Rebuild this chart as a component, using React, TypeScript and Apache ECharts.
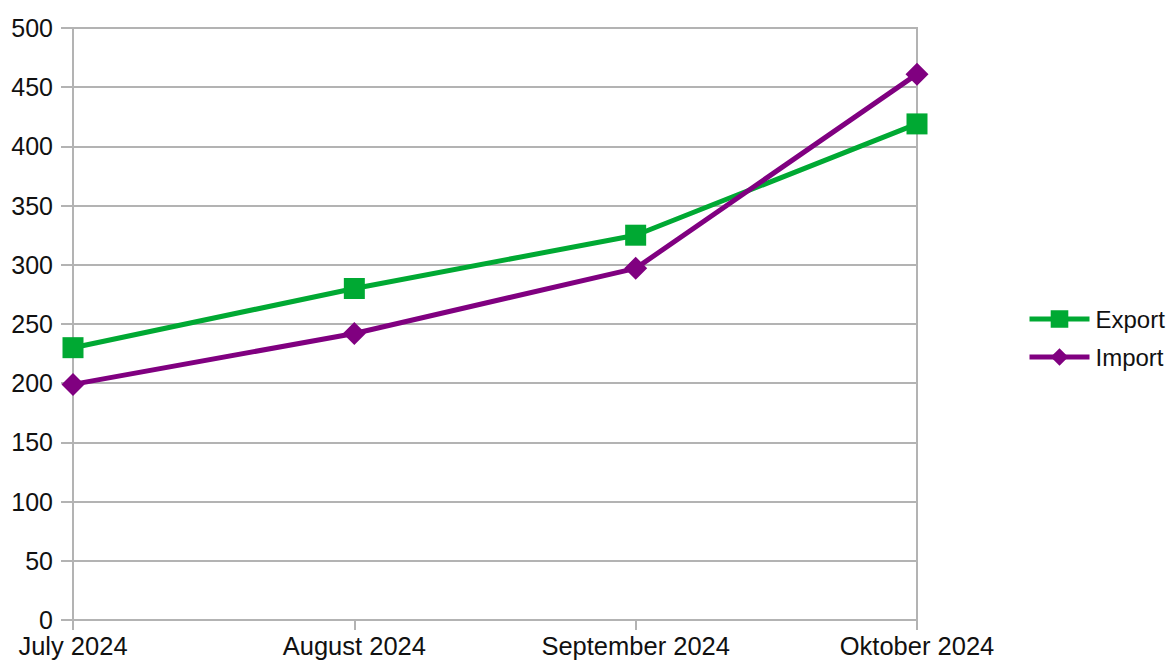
import React, { useEffect, useRef } from "react";
import * as echarts from "echarts";

const categories = ["July 2024", "August 2024", "September 2024", "Oktober 2024"];
const exportValues = [230, 280, 325, 419];
const importValues = [199, 242, 297, 461];
const yMin = 0;
const yMax = 500;
const yInterval = 50;

export default function App() {
  const ref = useRef<HTMLDivElement>(null);
  useEffect(() => {
    if (!ref.current) return;
    const chart = echarts.init(ref.current, undefined, { renderer: "svg" });
    const font = "'Liberation Sans', Arial, sans-serif";
    const textColor = "#111111";
    chart.setOption({
      animation: false,
      textStyle: { fontFamily: font },
      grid: {
        left: 73, right: 258, top: 28, bottom: 43, containLabel: false,
        show: true, borderColor: "#b3b3b3", borderWidth: 2,
      },
      legend: {
        orient: "vertical",
        left: 1022,
        top: 302,
        itemWidth: 60,
        itemHeight: 22,
        itemGap: 14,
        lineStyle: { width: 5 },
        textStyle: { fontSize: 24, color: textColor, fontFamily: font, padding: [0, 0, 0, 1] },
        data: ["Export", "Import"],
      },
      xAxis: {
        type: "category",
        data: categories,
        boundaryGap: false,
        axisLine: { show: true, lineStyle: { color: "#b3b3b3", width: 2 } },
        axisTick: { show: true, length: 10, lineStyle: { color: "#b3b3b3", width: 2 } },
        axisLabel: { fontSize: 25.5, color: textColor, margin: 13, fontFamily: font },
        splitLine: { show: false },
      },
      yAxis: {
        type: "value",
        min: yMin,
        max: yMax,
        interval: yInterval,
        axisLine: { show: true, lineStyle: { color: "#b3b3b3", width: 2 } },
        axisTick: { show: true, length: 12, lineStyle: { color: "#b3b3b3", width: 2 } },
        axisLabel: { fontSize: 25, color: textColor, margin: 20, fontFamily: font },
        splitLine: { show: true, lineStyle: { color: "#b3b3b3", width: 2 } },
      },
      series: [
        {
          name: "Export",
          type: "line",
          data: exportValues,
          symbol: "rect",
          symbolSize: 21,
          itemStyle: { color: "#00a933" },
          lineStyle: { color: "#00a933", width: 5 },
        },
        {
          name: "Import",
          type: "line",
          data: importValues,
          symbol: "diamond",
          symbolSize: 23,
          itemStyle: { color: "#800080" },
          lineStyle: { color: "#800080", width: 5 },
        },
      ],
    });
    return () => chart.dispose();
  }, []);
  return <div ref={ref} style={{ width: 1175, height: 663, position: "absolute", left: 0, top: 0 }} />;
}
